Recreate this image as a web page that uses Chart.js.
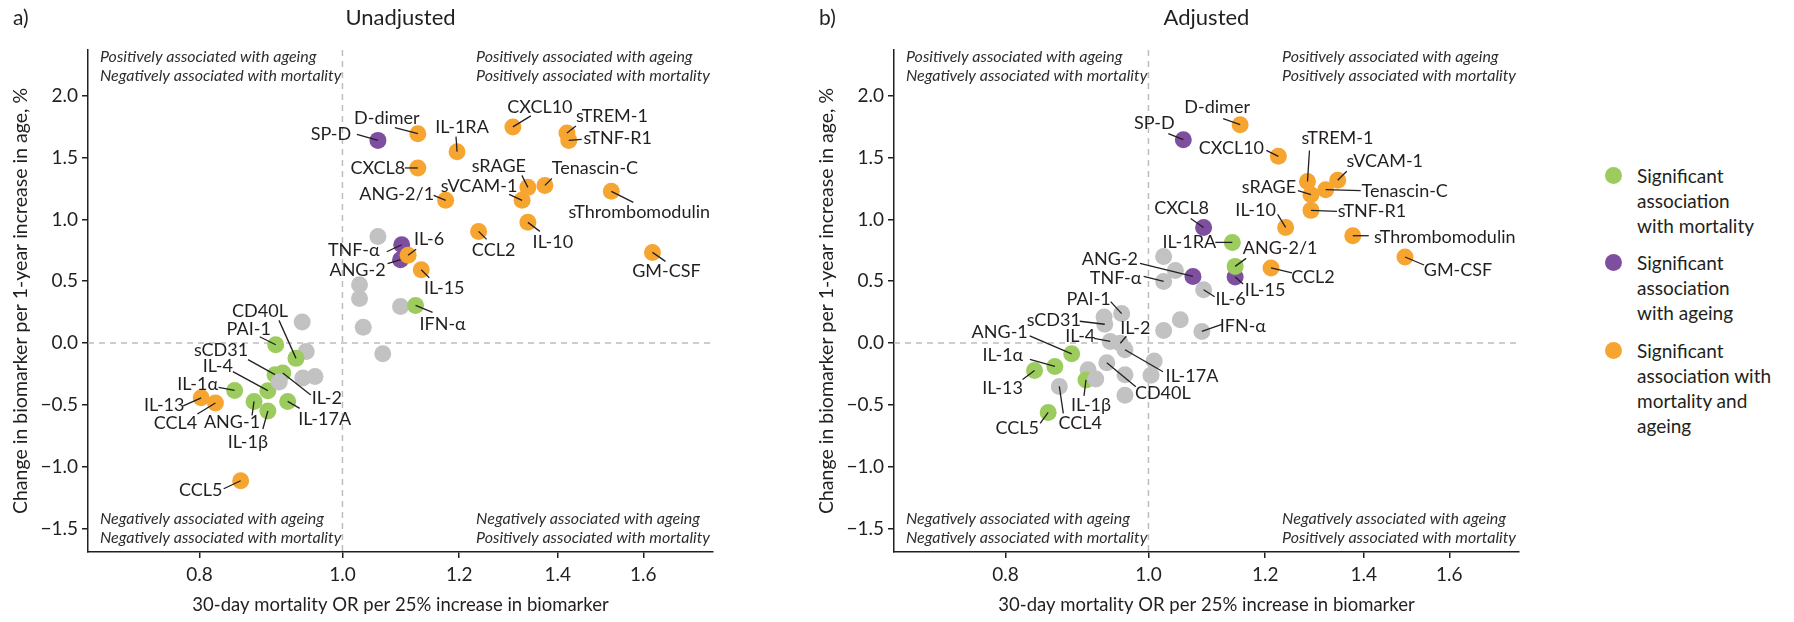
<!DOCTYPE html>
<html><head><meta charset="utf-8">
<script src="https://cdn.jsdelivr.net/npm/chart.js@4/dist/chart.umd.min.js"></script>
<style>
html,body{margin:0;padding:0;background:#fff;}
body{width:1794px;height:622px;position:relative;overflow:hidden;font-family:Lato,sans-serif;color:#231F20;}
.panel{position:absolute;top:0;width:760px;height:622px;}
.lg-item{position:absolute;left:1605px;}
.lg-dot{position:absolute;left:0;width:17px;height:17px;border-radius:50%;}
.lg-text{position:absolute;left:32px;white-space:nowrap;font-size:19px;line-height:25px;}
</style></head><body>
<div class="panel" style="left:0"><canvas id="c1" width="760" height="622"></canvas></div>
<div class="panel" style="left:806px"><canvas id="c2" width="760" height="622"></canvas></div>
<div id="legend"></div>
<script>
// ---------- axis ticks ----------
const xTickValues = [0.8, 1.0, 1.2, 1.4, 1.6];
const yTickValues = [-1.5, -1.0, -0.5, 0.0, 0.5, 1.0, 1.5, 2.0];

// ---------- groups ----------
const groupKeys = ['mort', 'age', 'both'];
const groupLabels = [
  ['Significant', 'association', 'with mortality'],
  ['Significant', 'association', 'with ageing'],
  ['Significant', 'association with', 'mortality and', 'ageing']
];
const groupColors = {none: '#C2C2C2', mort: '#9CCB5E', age: '#7F4F9F', both: '#F7A531'};

// ---------- panel a) Unadjusted ----------
const unadjNames = ['', '', '', '', '', '', '', '', '', '',
  'SP-D', 'D-dimer', 'IL-1RA', 'CXCL10', 'sTREM-1', 'sTNF-R1', 'CXCL8', 'sRAGE', 'Tenascin-C', 'sVCAM-1',
  'ANG-2/1', 'sThrombomodulin', 'IL-10', 'CCL2', 'GM-CSF', 'TNF-α', 'ANG-2', 'IL-6', 'IL-15', 'IFN-α',
  'CD40L', 'PAI-1', 'sCD31', 'IL-2', 'IL-1α', 'IL-4', 'IL-13', 'CCL4', 'ANG-1', 'IL-1β',
  'IL-17A', 'CCL5', ''];
const unadjOR = [1.057, 1.027, 1.027, 1.095, 1.033, 1.065, 0.939, 0.945, 0.958, 0.940,
  1.057, 1.125, 1.196, 1.305, 1.420, 1.424, 1.125, 1.336, 1.372, 1.324,
  1.175, 1.522, 1.336, 1.237, 1.623, 1.097, 1.095, 1.108, 1.131, 1.121,
  0.930, 0.901, 0.900, 0.911, 0.845, 0.890, 0.802, 0.820, 0.871, 0.890,
  0.918, 0.853, 0.906];
const unadjChange = [0.862, 0.472, 0.360, 0.296, 0.128, -0.087, 0.170, -0.068, -0.270, -0.283,
  1.639, 1.693, 1.548, 1.748, 1.699, 1.639, 1.416, 1.259, 1.275, 1.154,
  1.154, 1.227, 0.976, 0.903, 0.733, 0.795, 0.674, 0.710, 0.593, 0.304,
  -0.124, -0.014, -0.256, -0.243, -0.383, -0.385, -0.443, -0.485, -0.472, -0.550,
  -0.472, -1.114, -0.315];
const unadjGroup = ['none', 'none', 'none', 'none', 'none', 'none', 'none', 'none', 'none', 'none',
  'age', 'both', 'both', 'both', 'both', 'both', 'both', 'both', 'both', 'both',
  'both', 'both', 'both', 'both', 'both', 'age', 'age', 'both', 'both', 'mort',
  'mort', 'mort', 'mort', 'mort', 'mort', 'mort', 'both', 'both', 'mort', 'mort',
  'mort', 'both', 'none'];

// ---------- panel b) Adjusted ----------
const adjNames = ['', '', '', '', '', '', '', '', '', '',
  'D-dimer', 'SP-D', 'CXCL10', 'sTREM-1', 'sVCAM-1', 'Tenascin-C', 'sRAGE', 'sTNF-R1', 'IL-10', 'CXCL8',
  'IL-1RA', 'sThrombomodulin', 'GM-CSF', 'IL-15', 'ANG-2/1', 'CCL2', 'ANG-2', 'TNF-α', 'IL-6', 'IFN-α',
  'PAI-1', 'sCD31', 'IL-4', 'IL-2', 'IL-17A', 'CD40L', 'ANG-1', 'IL-1α', 'IL-13', 'CCL4',
  'IL-1β', 'CCL5', ''];
const adjOR = [1.024, 1.043, 1.051, 1.024, 0.933, 1.009, 1.004, 0.964, 0.964, 0.910,
  1.154, 1.056, 1.225, 1.282, 1.344, 1.319, 1.289, 1.289, 1.239, 1.090,
  1.140, 1.376, 1.493, 1.145, 1.145, 1.211, 1.072, 1.024, 1.090, 1.087,
  0.959, 0.934, 0.942, 0.957, 0.964, 0.937, 0.887, 0.864, 0.837, 0.870,
  0.907, 0.855, 0.921];
const adjChange = [0.700, 0.587, 0.189, 0.102, 0.210, -0.145, -0.260, -0.256, -0.422, -0.216,
  1.766, 1.645, 1.510, 1.307, 1.316, 1.240, 1.200, 1.073, 0.935, 0.935,
  0.814, 0.868, 0.696, 0.534, 0.620, 0.607, 0.539, 0.498, 0.431, 0.094,
  0.238, 0.152, 0.013, -0.002, -0.054, -0.160, -0.087, -0.189, -0.222, -0.351,
  -0.298, -0.561, -0.291];
const adjGroup = ['none', 'none', 'none', 'none', 'none', 'none', 'none', 'none', 'none', 'none',
  'both', 'age', 'both', 'both', 'both', 'both', 'both', 'both', 'both', 'age',
  'mort', 'both', 'both', 'age', 'mort', 'both', 'age', 'none', 'none', 'none',
  'none', 'none', 'none', 'none', 'none', 'none', 'mort', 'mort', 'mort', 'none',
  'mort', 'mort', 'none'];

// ---------- label placement (pixel offsets from marker: text dx,dy, leader end dx,dy) ----------
const unadjLabelLayout = {
  'SP-D': [-47, -6, -21, -6], 'D-dimer': [-31, -16, -23, -6], 'IL-1RA': [5, -24, -1, -15],
  'CXCL10': [27, -20, 18, -11], 'sTREM-1': [45, -17, 9, -7], 'sTNF-R1': [49, -2, 13, -1],
  'CXCL8': [-40, 0, -13, 0], 'ANG-2/1': [-49, -6, -12, -5], 'sRAGE': [-29, -21, -6, -12],
  'sVCAM-1': [-43, -14, -13, -6], 'Tenascin-C': [50, -17, 7, -7], 'sThrombomodulin': [28, 21, 22, 11],
  'IL-10': [25, 20, 12, 9], 'CCL2': [15, 19, 8, 8], 'GM-CSF': [14, 19, 13, 9],
  'TNF-α': [-48, 5, -15, 7], 'ANG-2': [-43, 10, -13, 4], 'IL-6': [21, -16, 8, -6],
  'IL-15': [23, 18, 8, 8], 'IFN-α': [27, 19, 17, 7], 'CD40L': [-36, -47, -17, -38],
  'PAI-1': [-27, -16, -16, -8], 'sCD31': [-54, -25, -27, -15], 'IL-4': [-50, -24, -35, -19],
  'IL-1α': [-37, -6, -16, -3], 'IL-13': [-37, 7, -18, 8], 'CCL4': [-40, 20, -18, 11],
  'ANG-1': [-22, 21, -2, 14], 'IL-1β': [-20, 31, -5, 18], 'IL-2': [44, 25, 28, 22],
  'IL-17A': [37, 18, 12, 7], 'CCL5': [-40, 9, -17, 8]
};
const adjLabelLayout = {
  'D-dimer': [-23, -17, -17, -6], 'SP-D': [-29, -16, -15, -6], 'CXCL10': [-47, -8, -12, -6],
  'sTREM-1': [30, -43, 2, -31], 'sVCAM-1': [47, -19, 9, -9], 'sRAGE': [-42, -7, -13, -4],
  'Tenascin-C': [79, 1, 35, 1], 'sTNF-R1': [61, 1, 26, 1], 'IL-10': [-30, -17, -8, -13],
  'CXCL8': [-22, -19, -13, -9], 'IL-1RA': [-43, 0, -17, 0], 'ANG-2/1': [45, -18, 11, -8],
  'IL-15': [30, 13, 8, 7], 'CCL2': [42, 9, 21, 5], 'sThrombomodulin': [92, 1, 16, 0],
  'GM-CSF': [53, 13, 19, 8], 'IL-6': [27, 9, 11, 7], 'IFN-α': [41, -5, 20, -7],
  'ANG-2': [-83, -17, -53, -13], 'TNF-α': [-48, -3, -20, -5], 'PAI-1': [-33, -14, -11, -12],
  'sCD31': [-51, -4, -25, -3], 'IL-2': [15, -15, 6, -7], 'IL-4': [-30, -5, -16, -3],
  'ANG-1': [-72, -22, -42, -18], 'IL-1α': [-52, -11, -25, -7], 'IL-13': [-32, 18, -12, 9],
  'CCL5': [-31, 16, -8, 11], 'CCL4': [21, 37, 4, 27], 'IL-1β': [5, 25, -2, 16],
  'CD40L': [56, 30, 29, 24], 'IL-17A': [67, 26, 38, 22]
};

const quadrantText = {
  tl: ['Positively associated with ageing', 'Negatively associated with mortality'],
  tr: ['Positively associated with ageing', 'Positively associated with mortality'],
  bl: ['Negatively associated with ageing', 'Negatively associated with mortality'],
  br: ['Negatively associated with ageing', 'Positively associated with mortality']
};

const INK = '#231F20';
const FONT = 'Lato, "Noto Sans", sans-serif';
const fmt = v => (v < 0 ? '\u2212' : '') + Math.abs(v).toFixed(1);

const refLines = {
  id: 'refLines',
  beforeDatasetsDraw(chart) {
    const {ctx, chartArea: a, scales: {x, y}} = chart;
    const x1 = x.getPixelForValue(1), y0 = y.getPixelForValue(0);
    ctx.save();
    ctx.strokeStyle = '#BDBDBD'; ctx.lineWidth = 1.5; ctx.setLineDash([6, 5]);
    ctx.beginPath();
    ctx.moveTo(x1, a.top); ctx.lineTo(x1, a.bottom);
    ctx.moveTo(a.left, y0); ctx.lineTo(a.right, y0);
    ctx.stroke();
    ctx.restore();
    // quadrant captions (left-aligned blocks; right blocks end at the axis end)
    ctx.save();
    ctx.fillStyle = '#2E2E2E';
    ctx.font = 'italic 16px ' + FONT;
    ctx.textBaseline = 'middle';
    ctx.textAlign = 'left';
    const block = (lines, xl, ytop) => {
      ctx.fillText(lines[0], xl, ytop);
      ctx.fillText(lines[1], xl, ytop + 18.5);
    };
    const wOf = lines => Math.max(...lines.map(s => ctx.measureText(s).width));
    block(quadrantText.tl, a.left + 12, a.top + 7);
    block(quadrantText.bl, a.left + 12, a.bottom - 33);
    block(quadrantText.tr, a.right - 3 - wOf(quadrantText.tr), a.top + 7);
    block(quadrantText.br, a.right - 3 - wOf(quadrantText.br), a.bottom - 33);
    ctx.restore();
  },
  afterDraw(chart, args, opts) {
    const {ctx, chartArea: a} = chart;
    ctx.save();
    ctx.fillStyle = INK;
    ctx.font = '21px ' + FONT;
    ctx.textBaseline = 'middle';
    ctx.textAlign = 'left';
    ctx.fillText(opts.tag, 13, 18);
    ctx.font = '22px ' + FONT;
    ctx.textAlign = 'center';
    ctx.fillText(opts.title, (a.left + a.right) / 2, 18);
    ctx.restore();
  }
};

const markerLabels = {
  id: 'markerLabels',
  afterDatasetsDraw(chart, args, opts) {
    const {ctx} = chart;
    const meta = chart.getDatasetMeta(0);
    const pts = chart.data.datasets[0].data;
    ctx.save();
    ctx.strokeStyle = INK; ctx.lineWidth = 1.3;
    ctx.fillStyle = INK;
    ctx.font = '18px ' + FONT;
    ctx.textAlign = 'center'; ctx.textBaseline = 'middle';
    pts.forEach((p, i) => {
      const L = opts.layout[p.name];
      if (!L) return;
      const el = meta.data[i];
      ctx.beginPath();
      ctx.moveTo(el.x, el.y);
      ctx.lineTo(el.x + L[2], el.y + L[3]);
      ctx.stroke();
      ctx.fillText(p.name, el.x + L[0], el.y + L[1]);
    });
    ctx.restore();
  }
};

function makePanel(id, names, ors, changes, groups, layout, tag, title) {
  const pts = ors.map((v, i) => ({x: v, y: changes[i], name: names[i]}));
  const colors = groups.map(g => groupColors[g]);
  return new Chart(document.getElementById(id), {
    type: 'scatter',
    data: {datasets: [{data: pts, pointBackgroundColor: colors, pointBorderWidth: 0,
      pointRadius: 8.5, pointHoverRadius: 8.5}]},
    options: {
      responsive: false, animation: false, events: [],
      layout: {padding: {left: 0, top: 50, right: 47, bottom: 0}},
      plugins: {legend: {display: false}, tooltip: {enabled: false},
        markerLabels: {layout}, refLines: {tag, title}},
      scales: {
        x: {
          type: 'logarithmic', min: 0.672, max: 1.784, bounds: 'data',
          afterBuildTicks: s => { s.ticks = xTickValues.map(v => ({value: v})); },
          afterFit: s => { s.height = 70; },
          ticks: {callback: v => fmt(v), font: {family: FONT, size: 19}, color: INK, padding: 5,
            autoSkip: false, maxRotation: 0},
          grid: {drawOnChartArea: false, drawTicks: true, tickLength: 6, color: INK, lineWidth: 1.5},
          border: {display: true, color: INK, width: 1.5},
          title: {display: true, text: '30-day mortality OR per 25% increase in biomarker',
            font: {family: FONT, size: 18.5}, color: INK, padding: {top: 0, bottom: 6}}
        },
        y: {
          type: 'linear', min: -1.69, max: 2.37, bounds: 'data',
          afterBuildTicks: s => { s.ticks = yTickValues.map(v => ({value: v})); },
          afterFit: s => { s.width = 88; },
          ticks: {callback: v => fmt(v), font: {family: FONT, size: 19}, color: INK, padding: 4,
            autoSkip: false},
          grid: {drawOnChartArea: false, drawTicks: true, tickLength: 6, color: INK, lineWidth: 1.5},
          border: {display: true, color: INK, width: 1.5},
          title: {display: true, text: 'Change in biomarker per 1-year increase in age, %',
            font: {family: FONT, size: 19.5}, color: INK, padding: {top: 9, bottom: 0}}
        }
      }
    },
    plugins: [refLines, markerLabels]
  });
}

makePanel('c1', unadjNames, unadjOR, unadjChange, unadjGroup, unadjLabelLayout, 'a)', 'Unadjusted');
makePanel('c2', adjNames, adjOR, adjChange, adjGroup, adjLabelLayout, 'b)', 'Adjusted');

// ---------- legend ----------
const legendDotY = [175, 262, 350];
const legend = document.getElementById('legend');
groupKeys.forEach((k, i) => {
  const item = document.createElement('div');
  item.className = 'lg-item';
  item.style.top = (legendDotY[i] - 12.5) + 'px';
  const dot = document.createElement('div');
  dot.className = 'lg-dot';
  dot.style.background = groupColors[k];
  dot.style.top = '4px';
  const txt = document.createElement('div');
  txt.className = 'lg-text';
  txt.innerHTML = groupLabels[i].join('<br>');
  item.appendChild(dot); item.appendChild(txt);
  legend.appendChild(item);
});
</script>
</body></html>
